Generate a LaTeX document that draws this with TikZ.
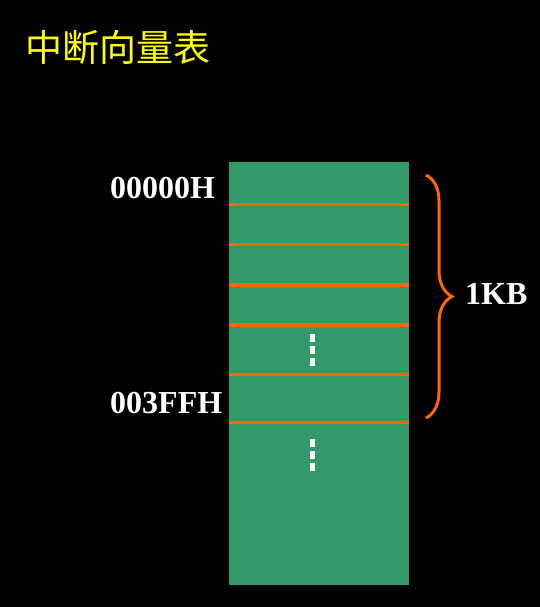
\documentclass[tikz,border=0pt]{standalone}
\usepackage{fontspec}
\setmainfont{Liberation Serif}
\newfontfamily\cjk{Noto Sans CJK SC}
\usetikzlibrary{decorations.pathreplacing}
\definecolor{verde}{RGB}{52,153,104}
\definecolor{naranja}{RGB}{255,102,0}
\definecolor{amarillo}{RGB}{255,255,0}

\begin{document}
\begin{tikzpicture}[   % opciones por defecto
      x=1pt, y=-1pt,     % coordenadas en pixeles
      font=\bfseries\fontsize{32}{36}\selectfont
    ]
    \tikzstyle{sep}=[draw=naranja, line width=3pt];
    \tikzstyle{addr}=[text=white, anchor=base west, inner sep=0pt];
    \tikzstyle{punto}=[fill=white];
    %
    % fondo negro
    \fill[black] (0,0) rectangle (540,607);
    \useasboundingbox (0,0) rectangle (540,607);
    %
    % titulo
    \node [text=amarillo, inner sep=0pt, font=\cjk\fontsize{37}{40}\selectfont] (titulo) at (118,47.5) {中断向量表};
    %
    % tabla de vectores
    \node [fill=verde, minimum width=180pt, minimum height=423pt, inner sep=0pt, anchor=north west] (tabla) at (229,162) {};
    \foreach \y/\w in {204/3,244/3,285/3.6,325/3.6,374/3,422/3} {
      \draw[sep, line width=\w pt] (tabla.west |- 0,\y) -- (tabla.east |- 0,\y);
    }
    %
    % puntos suspensivos
    \foreach \y in {334,346,358,439,451,463} {
      \fill[punto] (310,\y) rectangle (315,\y+8);
    }
    %
    % direcciones
    \node [addr] (dir0) at (110,198) {00000H};
    \node [addr] (dir1) at (110,413) {003FFH};
    %
    % llave 1KB
    \coordinate (ltop) at (426,175);
    \coordinate (lbot) at (426,418);
    \draw[naranja, line width=3pt, decorate, decoration={brace, amplitude=26pt}] (ltop) -- (lbot);
    \node [addr] (kb) at (465,304) {1KB};
  \end{tikzpicture}
\end{document}
